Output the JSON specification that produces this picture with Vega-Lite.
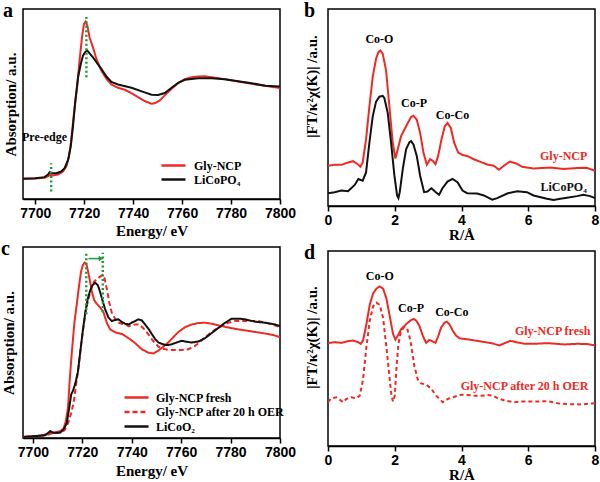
{
  "$schema": "https://vega.github.io/schema/vega-lite/v6.json",
  "padding": 0,
  "background": "white",
  "config": {
    "view": {"stroke": "black", "strokeWidth": 1.5},
    "axis": {"grid": false, "labelFont": "Liberation Sans", "labelFontWeight": "bold", "labelFontSize": 14, "labelColor": "black", "titleFont": "Liberation Serif", "titleFontWeight": "bold", "titleFontSize": 15, "titleColor": "black", "tickColor": "black", "domainColor": "black", "domainWidth": 1.5, "tickWidth": 1.5, "tickSize": 5, "labelPadding": 2, "labelFlush": false, "labelOverlap": false},
    "title": {"font": "Liberation Serif", "fontWeight": "bold", "fontSize": 20, "anchor": "start", "frame": "bounds", "offset": -12, "color": "black"},
    "text": {"font": "Liberation Serif", "fontWeight": "bold", "fontSize": 12},
    "legend": {"labelFont": "Liberation Serif", "labelFontWeight": "bold", "labelFontSize": 12, "labelColor": "black"}
  },
  "datasets": {
    "a_lines": [
      {"series": "Gly-NCP", "energy": 7695, "absorption": 61}, {"series": "Gly-NCP", "energy": 7700, "absorption": 62}, {"series": "Gly-NCP", "energy": 7703.8, "absorption": 64}, {"series": "Gly-NCP", "energy": 7705.2, "absorption": 68}, {"series": "Gly-NCP", "energy": 7706.1, "absorption": 73}, {"series": "Gly-NCP", "energy": 7707.2, "absorption": 71}, {"series": "Gly-NCP", "energy": 7709.3, "absorption": 74}, {"series": "Gly-NCP", "energy": 7711.3, "absorption": 83}, {"series": "Gly-NCP", "energy": 7712.7, "absorption": 98}, {"series": "Gly-NCP", "energy": 7713.8, "absorption": 128}, {"series": "Gly-NCP", "energy": 7714.7, "absorption": 178}, {"series": "Gly-NCP", "energy": 7715.8, "absorption": 258}, {"series": "Gly-NCP", "energy": 7717.1, "absorption": 338}, {"series": "Gly-NCP", "energy": 7718.1, "absorption": 418}, {"series": "Gly-NCP", "energy": 7719.1, "absorption": 488}, {"series": "Gly-NCP", "energy": 7719.9, "absorption": 528}, {"series": "Gly-NCP", "energy": 7720.6, "absorption": 536}, {"series": "Gly-NCP", "energy": 7721.3, "absorption": 523}, {"series": "Gly-NCP", "energy": 7722.2, "absorption": 488}, {"series": "Gly-NCP", "energy": 7723.6, "absorption": 458}, {"series": "Gly-NCP", "energy": 7725.0, "absorption": 423}, {"series": "Gly-NCP", "energy": 7727.0, "absorption": 388}, {"series": "Gly-NCP", "energy": 7729.1, "absorption": 363}, {"series": "Gly-NCP", "energy": 7731.1, "absorption": 346}, {"series": "Gly-NCP", "energy": 7733.8, "absorption": 336}, {"series": "Gly-NCP", "energy": 7736.6, "absorption": 330}, {"series": "Gly-NCP", "energy": 7739.3, "absorption": 320}, {"series": "Gly-NCP", "energy": 7742.0, "absorption": 308}, {"series": "Gly-NCP", "energy": 7744.7, "absorption": 296}, {"series": "Gly-NCP", "energy": 7747.5, "absorption": 288}, {"series": "Gly-NCP", "energy": 7748.8, "absorption": 289}, {"series": "Gly-NCP", "energy": 7750.9, "absorption": 298}, {"series": "Gly-NCP", "energy": 7752.9, "absorption": 313}, {"series": "Gly-NCP", "energy": 7755.7, "absorption": 333}, {"series": "Gly-NCP", "energy": 7758.4, "absorption": 350}, {"series": "Gly-NCP", "energy": 7761.1, "absorption": 362}, {"series": "Gly-NCP", "energy": 7763.8, "absorption": 368}, {"series": "Gly-NCP", "energy": 7766.6, "absorption": 370}, {"series": "Gly-NCP", "energy": 7769.3, "absorption": 371}, {"series": "Gly-NCP", "energy": 7772.0, "absorption": 368}, {"series": "Gly-NCP", "energy": 7777.5, "absorption": 362}, {"series": "Gly-NCP", "energy": 7782.9, "absorption": 355}, {"series": "Gly-NCP", "energy": 7788.4, "absorption": 348}, {"series": "Gly-NCP", "energy": 7793.9, "absorption": 342}, {"series": "Gly-NCP", "energy": 7800, "absorption": 335},
      {"series": "LiCoPO₄", "energy": 7695, "absorption": 61}, {"series": "LiCoPO₄", "energy": 7700, "absorption": 63}, {"series": "LiCoPO₄", "energy": 7703.8, "absorption": 66}, {"series": "LiCoPO₄", "energy": 7705.2, "absorption": 74}, {"series": "LiCoPO₄", "energy": 7705.9, "absorption": 81}, {"series": "LiCoPO₄", "energy": 7706.8, "absorption": 78}, {"series": "LiCoPO₄", "energy": 7708.6, "absorption": 78}, {"series": "LiCoPO₄", "energy": 7710.6, "absorption": 83}, {"series": "LiCoPO₄", "energy": 7712.0, "absorption": 93}, {"series": "LiCoPO₄", "energy": 7713.4, "absorption": 118}, {"series": "LiCoPO₄", "energy": 7714.5, "absorption": 158}, {"series": "LiCoPO₄", "energy": 7715.4, "absorption": 218}, {"series": "LiCoPO₄", "energy": 7716.4, "absorption": 298}, {"series": "LiCoPO₄", "energy": 7717.5, "absorption": 368}, {"series": "LiCoPO₄", "energy": 7718.6, "absorption": 408}, {"series": "LiCoPO₄", "energy": 7719.5, "absorption": 433}, {"series": "LiCoPO₄", "energy": 7720.5, "absorption": 445}, {"series": "LiCoPO₄", "energy": 7721.3, "absorption": 448}, {"series": "LiCoPO₄", "energy": 7722.2, "absorption": 440}, {"series": "LiCoPO₄", "energy": 7723.6, "absorption": 428}, {"series": "LiCoPO₄", "energy": 7725.0, "absorption": 413}, {"series": "LiCoPO₄", "energy": 7727.0, "absorption": 393}, {"series": "LiCoPO₄", "energy": 7729.1, "absorption": 370}, {"series": "LiCoPO₄", "energy": 7731.1, "absorption": 354}, {"series": "LiCoPO₄", "energy": 7733.8, "absorption": 346}, {"series": "LiCoPO₄", "energy": 7739.3, "absorption": 336}, {"series": "LiCoPO₄", "energy": 7744.7, "absorption": 322}, {"series": "LiCoPO₄", "energy": 7747.5, "absorption": 315}, {"series": "LiCoPO₄", "energy": 7750.2, "absorption": 314}, {"series": "LiCoPO₄", "energy": 7752.9, "absorption": 320}, {"series": "LiCoPO₄", "energy": 7755.7, "absorption": 336}, {"series": "LiCoPO₄", "energy": 7758.4, "absorption": 351}, {"series": "LiCoPO₄", "energy": 7761.1, "absorption": 360}, {"series": "LiCoPO₄", "energy": 7766.6, "absorption": 365}, {"series": "LiCoPO₄", "energy": 7772.0, "absorption": 365}, {"series": "LiCoPO₄", "energy": 7777.5, "absorption": 362}, {"series": "LiCoPO₄", "energy": 7782.9, "absorption": 356}, {"series": "LiCoPO₄", "energy": 7788.4, "absorption": 350}, {"series": "LiCoPO₄", "energy": 7793.9, "absorption": 342}, {"series": "LiCoPO₄", "energy": 7800, "absorption": 340}
    ],
    "a_marks": [
      {"energy": 7706.5, "y1": 23, "y2": 108},
      {"energy": 7720.9, "y1": 368, "y2": 550}
    ],
    "a_text": [
      {"label": "Pre-edge", "energy": 7703.8, "absorption": 188}
    ],
    "b_lines": [
      {"series": "Gly-NCP", "r": 0.0, "ft": 122}, {"series": "Gly-NCP", "r": 0.2, "ft": 125}, {"series": "Gly-NCP", "r": 0.4, "ft": 125}, {"series": "Gly-NCP", "r": 0.6, "ft": 132}, {"series": "Gly-NCP", "r": 0.75, "ft": 136}, {"series": "Gly-NCP", "r": 0.89, "ft": 127}, {"series": "Gly-NCP", "r": 0.97, "ft": 119}, {"series": "Gly-NCP", "r": 1.04, "ft": 132}, {"series": "Gly-NCP", "r": 1.14, "ft": 202}, {"series": "Gly-NCP", "r": 1.24, "ft": 302}, {"series": "Gly-NCP", "r": 1.34, "ft": 392}, {"series": "Gly-NCP", "r": 1.44, "ft": 447}, {"series": "Gly-NCP", "r": 1.51, "ft": 467}, {"series": "Gly-NCP", "r": 1.57, "ft": 472}, {"series": "Gly-NCP", "r": 1.64, "ft": 462}, {"series": "Gly-NCP", "r": 1.74, "ft": 412}, {"series": "Gly-NCP", "r": 1.84, "ft": 302}, {"series": "Gly-NCP", "r": 1.94, "ft": 192}, {"series": "Gly-NCP", "r": 2.02, "ft": 144}, {"series": "Gly-NCP", "r": 2.09, "ft": 172}, {"series": "Gly-NCP", "r": 2.19, "ft": 212}, {"series": "Gly-NCP", "r": 2.29, "ft": 232}, {"series": "Gly-NCP", "r": 2.39, "ft": 252}, {"series": "Gly-NCP", "r": 2.49, "ft": 270}, {"series": "Gly-NCP", "r": 2.56, "ft": 274}, {"series": "Gly-NCP", "r": 2.66, "ft": 262}, {"series": "Gly-NCP", "r": 2.76, "ft": 222}, {"series": "Gly-NCP", "r": 2.86, "ft": 162}, {"series": "Gly-NCP", "r": 2.96, "ft": 125}, {"series": "Gly-NCP", "r": 3.06, "ft": 142}, {"series": "Gly-NCP", "r": 3.14, "ft": 137}, {"series": "Gly-NCP", "r": 3.22, "ft": 127}, {"series": "Gly-NCP", "r": 3.30, "ft": 152}, {"series": "Gly-NCP", "r": 3.40, "ft": 202}, {"series": "Gly-NCP", "r": 3.50, "ft": 242}, {"series": "Gly-NCP", "r": 3.58, "ft": 252}, {"series": "Gly-NCP", "r": 3.68, "ft": 237}, {"series": "Gly-NCP", "r": 3.78, "ft": 192}, {"series": "Gly-NCP", "r": 3.90, "ft": 162}, {"series": "Gly-NCP", "r": 4.03, "ft": 155}, {"series": "Gly-NCP", "r": 4.17, "ft": 152}, {"series": "Gly-NCP", "r": 4.37, "ft": 142}, {"series": "Gly-NCP", "r": 4.57, "ft": 134}, {"series": "Gly-NCP", "r": 4.77, "ft": 126}, {"series": "Gly-NCP", "r": 4.97, "ft": 122}, {"series": "Gly-NCP", "r": 5.12, "ft": 110}, {"series": "Gly-NCP", "r": 5.27, "ft": 122}, {"series": "Gly-NCP", "r": 5.45, "ft": 135}, {"series": "Gly-NCP", "r": 5.62, "ft": 130}, {"series": "Gly-NCP", "r": 5.82, "ft": 119}, {"series": "Gly-NCP", "r": 6.16, "ft": 114}, {"series": "Gly-NCP", "r": 6.66, "ft": 117}, {"series": "Gly-NCP", "r": 7.06, "ft": 112}, {"series": "Gly-NCP", "r": 7.46, "ft": 115}, {"series": "Gly-NCP", "r": 7.75, "ft": 116}, {"series": "Gly-NCP", "r": 8.0, "ft": 107},
      {"series": "LiCoPO₄", "r": 0.0, "ft": 39}, {"series": "LiCoPO₄", "r": 0.2, "ft": 42}, {"series": "LiCoPO₄", "r": 0.4, "ft": 47}, {"series": "LiCoPO₄", "r": 0.6, "ft": 45}, {"series": "LiCoPO₄", "r": 0.8, "ft": 64}, {"series": "LiCoPO₄", "r": 0.91, "ft": 82}, {"series": "LiCoPO₄", "r": 1.04, "ft": 77}, {"series": "LiCoPO₄", "r": 1.14, "ft": 102}, {"series": "LiCoPO₄", "r": 1.24, "ft": 192}, {"series": "LiCoPO₄", "r": 1.34, "ft": 272}, {"series": "LiCoPO₄", "r": 1.44, "ft": 317}, {"series": "LiCoPO₄", "r": 1.54, "ft": 332}, {"series": "LiCoPO₄", "r": 1.64, "ft": 334}, {"series": "LiCoPO₄", "r": 1.69, "ft": 327}, {"series": "LiCoPO₄", "r": 1.79, "ft": 282}, {"series": "LiCoPO₄", "r": 1.89, "ft": 192}, {"series": "LiCoPO₄", "r": 1.99, "ft": 92}, {"series": "LiCoPO₄", "r": 2.07, "ft": 32}, {"series": "LiCoPO₄", "r": 2.11, "ft": 24}, {"series": "LiCoPO₄", "r": 2.15, "ft": 42}, {"series": "LiCoPO₄", "r": 2.24, "ft": 112}, {"series": "LiCoPO₄", "r": 2.34, "ft": 172}, {"series": "LiCoPO₄", "r": 2.44, "ft": 194}, {"series": "LiCoPO₄", "r": 2.49, "ft": 197}, {"series": "LiCoPO₄", "r": 2.56, "ft": 187}, {"series": "LiCoPO₄", "r": 2.66, "ft": 152}, {"series": "LiCoPO₄", "r": 2.76, "ft": 92}, {"series": "LiCoPO₄", "r": 2.88, "ft": 42}, {"series": "LiCoPO₄", "r": 2.98, "ft": 44}, {"series": "LiCoPO₄", "r": 3.10, "ft": 54}, {"series": "LiCoPO₄", "r": 3.23, "ft": 42}, {"series": "LiCoPO₄", "r": 3.33, "ft": 34}, {"series": "LiCoPO₄", "r": 3.43, "ft": 54}, {"series": "LiCoPO₄", "r": 3.58, "ft": 74}, {"series": "LiCoPO₄", "r": 3.73, "ft": 82}, {"series": "LiCoPO₄", "r": 3.88, "ft": 72}, {"series": "LiCoPO₄", "r": 4.03, "ft": 47}, {"series": "LiCoPO₄", "r": 4.17, "ft": 39}, {"series": "LiCoPO₄", "r": 4.47, "ft": 38}, {"series": "LiCoPO₄", "r": 4.67, "ft": 32}, {"series": "LiCoPO₄", "r": 4.92, "ft": 19}, {"series": "LiCoPO₄", "r": 5.07, "ft": 24}, {"series": "LiCoPO₄", "r": 5.37, "ft": 38}, {"series": "LiCoPO₄", "r": 5.67, "ft": 45}, {"series": "LiCoPO₄", "r": 5.96, "ft": 42}, {"series": "LiCoPO₄", "r": 6.16, "ft": 32}, {"series": "LiCoPO₄", "r": 6.56, "ft": 22}, {"series": "LiCoPO₄", "r": 6.76, "ft": 18}, {"series": "LiCoPO₄", "r": 6.96, "ft": 22}, {"series": "LiCoPO₄", "r": 7.16, "ft": 25}, {"series": "LiCoPO₄", "r": 7.46, "ft": 30}, {"series": "LiCoPO₄", "r": 7.65, "ft": 34}, {"series": "LiCoPO₄", "r": 7.85, "ft": 30}, {"series": "LiCoPO₄", "r": 8.0, "ft": 24}
    ],
    "b_peaks": [
      {"label": "Co-O", "r": 1.54, "ft": 507},
      {"label": "Co-P", "r": 2.58, "ft": 312},
      {"label": "Co-Co", "r": 3.73, "ft": 277}
    ],
    "b_names": [
      {"series": "Gly-NCP", "r": 7.06, "ft": 152},
      {"series": "LiCoPO₄", "r": 7.06, "ft": 57}
    ],
    "c_lines": [
      {"series": "Gly-NCP fresh", "energy": 7696.2, "absorption": 3}, {"series": "Gly-NCP fresh", "energy": 7700, "absorption": 5}, {"series": "Gly-NCP fresh", "energy": 7703.6, "absorption": 7}, {"series": "Gly-NCP fresh", "energy": 7705.7, "absorption": 12}, {"series": "Gly-NCP fresh", "energy": 7707.0, "absorption": 15}, {"series": "Gly-NCP fresh", "energy": 7709.0, "absorption": 16}, {"series": "Gly-NCP fresh", "energy": 7711.1, "absorption": 20}, {"series": "Gly-NCP fresh", "energy": 7712.4, "absorption": 28}, {"series": "Gly-NCP fresh", "energy": 7713.3, "absorption": 48}, {"series": "Gly-NCP fresh", "energy": 7714.2, "absorption": 88}, {"series": "Gly-NCP fresh", "energy": 7714.8, "absorption": 158}, {"series": "Gly-NCP fresh", "energy": 7715.5, "absorption": 228}, {"series": "Gly-NCP fresh", "energy": 7716.2, "absorption": 288}, {"series": "Gly-NCP fresh", "energy": 7716.8, "absorption": 338}, {"series": "Gly-NCP fresh", "energy": 7717.5, "absorption": 378}, {"series": "Gly-NCP fresh", "energy": 7718.2, "absorption": 418}, {"series": "Gly-NCP fresh", "energy": 7718.9, "absorption": 458}, {"series": "Gly-NCP fresh", "energy": 7719.5, "absorption": 488}, {"series": "Gly-NCP fresh", "energy": 7720.2, "absorption": 506}, {"series": "Gly-NCP fresh", "energy": 7720.9, "absorption": 514}, {"series": "Gly-NCP fresh", "energy": 7721.6, "absorption": 511}, {"series": "Gly-NCP fresh", "energy": 7722.2, "absorption": 493}, {"series": "Gly-NCP fresh", "energy": 7722.9, "absorption": 468}, {"series": "Gly-NCP fresh", "energy": 7723.9, "absorption": 428}, {"series": "Gly-NCP fresh", "energy": 7724.9, "absorption": 403}, {"series": "Gly-NCP fresh", "energy": 7725.9, "absorption": 393}, {"series": "Gly-NCP fresh", "energy": 7727.2, "absorption": 383}, {"series": "Gly-NCP fresh", "energy": 7728.6, "absorption": 368}, {"series": "Gly-NCP fresh", "energy": 7729.9, "absorption": 338}, {"series": "Gly-NCP fresh", "energy": 7731.3, "absorption": 318}, {"series": "Gly-NCP fresh", "energy": 7733.3, "absorption": 310}, {"series": "Gly-NCP fresh", "energy": 7736.0, "absorption": 305}, {"series": "Gly-NCP fresh", "energy": 7738.7, "absorption": 293}, {"series": "Gly-NCP fresh", "energy": 7741.4, "absorption": 278}, {"series": "Gly-NCP fresh", "energy": 7744.1, "absorption": 260}, {"series": "Gly-NCP fresh", "energy": 7746.8, "absorption": 250}, {"series": "Gly-NCP fresh", "energy": 7748.8, "absorption": 248}, {"series": "Gly-NCP fresh", "energy": 7750.8, "absorption": 256}, {"series": "Gly-NCP fresh", "energy": 7752.8, "absorption": 268}, {"series": "Gly-NCP fresh", "energy": 7754.9, "absorption": 281}, {"series": "Gly-NCP fresh", "energy": 7756.9, "absorption": 296}, {"series": "Gly-NCP fresh", "energy": 7758.9, "absorption": 311}, {"series": "Gly-NCP fresh", "energy": 7761.6, "absorption": 325}, {"series": "Gly-NCP fresh", "energy": 7764.3, "absorption": 333}, {"series": "Gly-NCP fresh", "energy": 7767.0, "absorption": 337}, {"series": "Gly-NCP fresh", "energy": 7769.7, "absorption": 338}, {"series": "Gly-NCP fresh", "energy": 7772.4, "absorption": 335}, {"series": "Gly-NCP fresh", "energy": 7776.4, "absorption": 328}, {"series": "Gly-NCP fresh", "energy": 7781.8, "absorption": 320}, {"series": "Gly-NCP fresh", "energy": 7787.2, "absorption": 314}, {"series": "Gly-NCP fresh", "energy": 7792.6, "absorption": 308}, {"series": "Gly-NCP fresh", "energy": 7796.6, "absorption": 303}, {"series": "Gly-NCP fresh", "energy": 7800, "absorption": 296},
      {"series": "Gly-NCP after 20 h OER", "energy": 7696.2, "absorption": 3}, {"series": "Gly-NCP after 20 h OER", "energy": 7700, "absorption": 5}, {"series": "Gly-NCP after 20 h OER", "energy": 7705.0, "absorption": 8}, {"series": "Gly-NCP after 20 h OER", "energy": 7707.7, "absorption": 13}, {"series": "Gly-NCP after 20 h OER", "energy": 7711.1, "absorption": 16}, {"series": "Gly-NCP after 20 h OER", "energy": 7712.8, "absorption": 23}, {"series": "Gly-NCP after 20 h OER", "energy": 7714.2, "absorption": 43}, {"series": "Gly-NCP after 20 h OER", "energy": 7715.5, "absorption": 73}, {"series": "Gly-NCP after 20 h OER", "energy": 7716.6, "absorption": 108}, {"series": "Gly-NCP after 20 h OER", "energy": 7717.5, "absorption": 158}, {"series": "Gly-NCP after 20 h OER", "energy": 7718.5, "absorption": 208}, {"series": "Gly-NCP after 20 h OER", "energy": 7719.4, "absorption": 268}, {"series": "Gly-NCP after 20 h OER", "energy": 7720.5, "absorption": 328}, {"series": "Gly-NCP after 20 h OER", "energy": 7721.4, "absorption": 373}, {"series": "Gly-NCP after 20 h OER", "energy": 7722.5, "absorption": 408}, {"series": "Gly-NCP after 20 h OER", "energy": 7723.6, "absorption": 438}, {"series": "Gly-NCP after 20 h OER", "energy": 7724.7, "absorption": 458}, {"series": "Gly-NCP after 20 h OER", "energy": 7725.9, "absorption": 466}, {"series": "Gly-NCP after 20 h OER", "energy": 7727.2, "absorption": 473}, {"series": "Gly-NCP after 20 h OER", "energy": 7728.2, "absorption": 478}, {"series": "Gly-NCP after 20 h OER", "energy": 7729.0, "absorption": 468}, {"series": "Gly-NCP after 20 h OER", "energy": 7729.9, "absorption": 438}, {"series": "Gly-NCP after 20 h OER", "energy": 7730.9, "absorption": 398}, {"series": "Gly-NCP after 20 h OER", "energy": 7731.9, "absorption": 368}, {"series": "Gly-NCP after 20 h OER", "energy": 7733.3, "absorption": 350}, {"series": "Gly-NCP after 20 h OER", "energy": 7734.6, "absorption": 338}, {"series": "Gly-NCP after 20 h OER", "energy": 7736.0, "absorption": 335}, {"series": "Gly-NCP after 20 h OER", "energy": 7737.3, "absorption": 333}, {"series": "Gly-NCP after 20 h OER", "energy": 7738.7, "absorption": 328}, {"series": "Gly-NCP after 20 h OER", "energy": 7740.0, "absorption": 330}, {"series": "Gly-NCP after 20 h OER", "energy": 7741.4, "absorption": 333}, {"series": "Gly-NCP after 20 h OER", "energy": 7742.7, "absorption": 333}, {"series": "Gly-NCP after 20 h OER", "energy": 7744.1, "absorption": 326}, {"series": "Gly-NCP after 20 h OER", "energy": 7745.4, "absorption": 316}, {"series": "Gly-NCP after 20 h OER", "energy": 7746.8, "absorption": 303}, {"series": "Gly-NCP after 20 h OER", "energy": 7748.1, "absorption": 290}, {"series": "Gly-NCP after 20 h OER", "energy": 7749.5, "absorption": 278}, {"series": "Gly-NCP after 20 h OER", "energy": 7750.8, "absorption": 268}, {"series": "Gly-NCP after 20 h OER", "energy": 7752.2, "absorption": 262}, {"series": "Gly-NCP after 20 h OER", "energy": 7754.9, "absorption": 258}, {"series": "Gly-NCP after 20 h OER", "energy": 7757.5, "absorption": 258}, {"series": "Gly-NCP after 20 h OER", "energy": 7760.2, "absorption": 258}, {"series": "Gly-NCP after 20 h OER", "energy": 7762.9, "absorption": 260}, {"series": "Gly-NCP after 20 h OER", "energy": 7765.6, "absorption": 270}, {"series": "Gly-NCP after 20 h OER", "energy": 7768.3, "absorption": 286}, {"series": "Gly-NCP after 20 h OER", "energy": 7771.0, "absorption": 303}, {"series": "Gly-NCP after 20 h OER", "energy": 7773.7, "absorption": 318}, {"series": "Gly-NCP after 20 h OER", "energy": 7776.4, "absorption": 328}, {"series": "Gly-NCP after 20 h OER", "energy": 7779.1, "absorption": 338}, {"series": "Gly-NCP after 20 h OER", "energy": 7781.8, "absorption": 343}, {"series": "Gly-NCP after 20 h OER", "energy": 7784.5, "absorption": 343}, {"series": "Gly-NCP after 20 h OER", "energy": 7787.2, "absorption": 343}, {"series": "Gly-NCP after 20 h OER", "energy": 7791.2, "absorption": 343}, {"series": "Gly-NCP after 20 h OER", "energy": 7795.3, "absorption": 336}, {"series": "Gly-NCP after 20 h OER", "energy": 7800, "absorption": 325},
      {"series": "LiCoO₂", "energy": 7696.2, "absorption": 3}, {"series": "LiCoO₂", "energy": 7700, "absorption": 5}, {"series": "LiCoO₂", "energy": 7705.0, "absorption": 8}, {"series": "LiCoO₂", "energy": 7707.0, "absorption": 20}, {"series": "LiCoO₂", "energy": 7708.4, "absorption": 15}, {"series": "LiCoO₂", "energy": 7711.1, "absorption": 16}, {"series": "LiCoO₂", "energy": 7712.4, "absorption": 25}, {"series": "LiCoO₂", "energy": 7713.7, "absorption": 43}, {"series": "LiCoO₂", "energy": 7714.7, "absorption": 88}, {"series": "LiCoO₂", "energy": 7715.5, "absorption": 128}, {"series": "LiCoO₂", "energy": 7716.2, "absorption": 138}, {"series": "LiCoO₂", "energy": 7717.1, "absorption": 158}, {"series": "LiCoO₂", "energy": 7718.2, "absorption": 193}, {"series": "LiCoO₂", "energy": 7719.1, "absorption": 248}, {"series": "LiCoO₂", "energy": 7720.1, "absorption": 308}, {"series": "LiCoO₂", "energy": 7721.2, "absorption": 368}, {"series": "LiCoO₂", "energy": 7722.2, "absorption": 408}, {"series": "LiCoO₂", "energy": 7723.2, "absorption": 433}, {"series": "LiCoO₂", "energy": 7724.1, "absorption": 448}, {"series": "LiCoO₂", "energy": 7725.2, "absorption": 455}, {"series": "LiCoO₂", "energy": 7726.3, "absorption": 448}, {"series": "LiCoO₂", "energy": 7727.2, "absorption": 428}, {"series": "LiCoO₂", "energy": 7728.2, "absorption": 403}, {"series": "LiCoO₂", "energy": 7729.2, "absorption": 378}, {"series": "LiCoO₂", "energy": 7730.6, "absorption": 353}, {"series": "LiCoO₂", "energy": 7731.9, "absorption": 343}, {"series": "LiCoO₂", "energy": 7733.3, "absorption": 346}, {"series": "LiCoO₂", "energy": 7734.6, "absorption": 348}, {"series": "LiCoO₂", "energy": 7736.0, "absorption": 340}, {"series": "LiCoO₂", "energy": 7737.3, "absorption": 335}, {"series": "LiCoO₂", "energy": 7738.7, "absorption": 333}, {"series": "LiCoO₂", "energy": 7740.0, "absorption": 338}, {"series": "LiCoO₂", "energy": 7741.4, "absorption": 343}, {"series": "LiCoO₂", "energy": 7742.7, "absorption": 348}, {"series": "LiCoO₂", "energy": 7744.1, "absorption": 345}, {"series": "LiCoO₂", "energy": 7745.4, "absorption": 333}, {"series": "LiCoO₂", "energy": 7746.8, "absorption": 320}, {"series": "LiCoO₂", "energy": 7748.1, "absorption": 305}, {"series": "LiCoO₂", "energy": 7749.5, "absorption": 290}, {"series": "LiCoO₂", "energy": 7750.8, "absorption": 280}, {"series": "LiCoO₂", "energy": 7752.2, "absorption": 276}, {"series": "LiCoO₂", "energy": 7753.5, "absorption": 273}, {"series": "LiCoO₂", "energy": 7754.9, "absorption": 273}, {"series": "LiCoO₂", "energy": 7756.2, "absorption": 275}, {"series": "LiCoO₂", "energy": 7758.2, "absorption": 280}, {"series": "LiCoO₂", "energy": 7760.2, "absorption": 285}, {"series": "LiCoO₂", "energy": 7762.3, "absorption": 282}, {"series": "LiCoO₂", "energy": 7764.3, "absorption": 280}, {"series": "LiCoO₂", "energy": 7767.0, "absorption": 283}, {"series": "LiCoO₂", "energy": 7769.7, "absorption": 293}, {"series": "LiCoO₂", "energy": 7772.4, "absorption": 308}, {"series": "LiCoO₂", "energy": 7775.1, "absorption": 323}, {"series": "LiCoO₂", "energy": 7777.8, "absorption": 338}, {"series": "LiCoO₂", "energy": 7780.5, "absorption": 350}, {"series": "LiCoO₂", "energy": 7783.2, "absorption": 350}, {"series": "LiCoO₂", "energy": 7785.8, "absorption": 348}, {"series": "LiCoO₂", "energy": 7789.9, "absorption": 341}, {"series": "LiCoO₂", "energy": 7793.9, "absorption": 338}, {"series": "LiCoO₂", "energy": 7798.0, "absorption": 333}, {"series": "LiCoO₂", "energy": 7800, "absorption": 328}
    ],
    "c_marks": [
      {"energy": 7721.6, "y1": 363, "y2": 543},
      {"energy": 7728.3, "y1": 368, "y2": 543}
    ],
    "c_arrow": [
      {"start": 7722.5, "end": 7727.6, "absorption": 526}
    ],
    "d_lines": [
      {"series": "Gly-NCP fresh", "r": 0.0, "ft": 317}, {"series": "Gly-NCP fresh", "r": 0.2, "ft": 320}, {"series": "Gly-NCP fresh", "r": 0.4, "ft": 318}, {"series": "Gly-NCP fresh", "r": 0.6, "ft": 323}, {"series": "Gly-NCP fresh", "r": 0.75, "ft": 325}, {"series": "Gly-NCP fresh", "r": 0.9, "ft": 320}, {"series": "Gly-NCP fresh", "r": 0.98, "ft": 315}, {"series": "Gly-NCP fresh", "r": 1.05, "ft": 325}, {"series": "Gly-NCP fresh", "r": 1.15, "ft": 375}, {"series": "Gly-NCP fresh", "r": 1.25, "ft": 435}, {"series": "Gly-NCP fresh", "r": 1.35, "ft": 470}, {"series": "Gly-NCP fresh", "r": 1.45, "ft": 485}, {"series": "Gly-NCP fresh", "r": 1.55, "ft": 492}, {"series": "Gly-NCP fresh", "r": 1.65, "ft": 485}, {"series": "Gly-NCP fresh", "r": 1.75, "ft": 455}, {"series": "Gly-NCP fresh", "r": 1.85, "ft": 400}, {"series": "Gly-NCP fresh", "r": 1.95, "ft": 345}, {"series": "Gly-NCP fresh", "r": 2.02, "ft": 328}, {"series": "Gly-NCP fresh", "r": 2.09, "ft": 340}, {"series": "Gly-NCP fresh", "r": 2.19, "ft": 360}, {"series": "Gly-NCP fresh", "r": 2.29, "ft": 370}, {"series": "Gly-NCP fresh", "r": 2.39, "ft": 380}, {"series": "Gly-NCP fresh", "r": 2.49, "ft": 388}, {"series": "Gly-NCP fresh", "r": 2.56, "ft": 392}, {"series": "Gly-NCP fresh", "r": 2.64, "ft": 387}, {"series": "Gly-NCP fresh", "r": 2.74, "ft": 370}, {"series": "Gly-NCP fresh", "r": 2.84, "ft": 340}, {"series": "Gly-NCP fresh", "r": 2.94, "ft": 318}, {"series": "Gly-NCP fresh", "r": 3.04, "ft": 327}, {"series": "Gly-NCP fresh", "r": 3.14, "ft": 322}, {"series": "Gly-NCP fresh", "r": 3.22, "ft": 318}, {"series": "Gly-NCP fresh", "r": 3.29, "ft": 335}, {"series": "Gly-NCP fresh", "r": 3.39, "ft": 365}, {"series": "Gly-NCP fresh", "r": 3.49, "ft": 380}, {"series": "Gly-NCP fresh", "r": 3.56, "ft": 383}, {"series": "Gly-NCP fresh", "r": 3.64, "ft": 375}, {"series": "Gly-NCP fresh", "r": 3.74, "ft": 355}, {"series": "Gly-NCP fresh", "r": 3.84, "ft": 340}, {"series": "Gly-NCP fresh", "r": 3.94, "ft": 332}, {"series": "Gly-NCP fresh", "r": 4.09, "ft": 330}, {"series": "Gly-NCP fresh", "r": 4.29, "ft": 327}, {"series": "Gly-NCP fresh", "r": 4.59, "ft": 322}, {"series": "Gly-NCP fresh", "r": 4.89, "ft": 317}, {"series": "Gly-NCP fresh", "r": 5.14, "ft": 310}, {"series": "Gly-NCP fresh", "r": 5.29, "ft": 317}, {"series": "Gly-NCP fresh", "r": 5.47, "ft": 324}, {"series": "Gly-NCP fresh", "r": 5.64, "ft": 320}, {"series": "Gly-NCP fresh", "r": 5.89, "ft": 315}, {"series": "Gly-NCP fresh", "r": 6.18, "ft": 315}, {"series": "Gly-NCP fresh", "r": 6.58, "ft": 317}, {"series": "Gly-NCP fresh", "r": 7.08, "ft": 313}, {"series": "Gly-NCP fresh", "r": 7.48, "ft": 315}, {"series": "Gly-NCP fresh", "r": 7.78, "ft": 314}, {"series": "Gly-NCP fresh", "r": 8.0, "ft": 310},
      {"series": "Gly-NCP after 20 h OER", "r": 0.0, "ft": 135}, {"series": "Gly-NCP after 20 h OER", "r": 0.1, "ft": 147}, {"series": "Gly-NCP after 20 h OER", "r": 0.25, "ft": 150}, {"series": "Gly-NCP after 20 h OER", "r": 0.35, "ft": 143}, {"series": "Gly-NCP after 20 h OER", "r": 0.45, "ft": 135}, {"series": "Gly-NCP after 20 h OER", "r": 0.55, "ft": 145}, {"series": "Gly-NCP after 20 h OER", "r": 0.7, "ft": 150}, {"series": "Gly-NCP after 20 h OER", "r": 0.85, "ft": 147}, {"series": "Gly-NCP after 20 h OER", "r": 0.95, "ft": 155}, {"series": "Gly-NCP after 20 h OER", "r": 1.05, "ft": 205}, {"series": "Gly-NCP after 20 h OER", "r": 1.15, "ft": 305}, {"series": "Gly-NCP after 20 h OER", "r": 1.25, "ft": 385}, {"series": "Gly-NCP after 20 h OER", "r": 1.35, "ft": 430}, {"series": "Gly-NCP after 20 h OER", "r": 1.45, "ft": 442}, {"series": "Gly-NCP after 20 h OER", "r": 1.55, "ft": 435}, {"series": "Gly-NCP after 20 h OER", "r": 1.65, "ft": 395}, {"series": "Gly-NCP after 20 h OER", "r": 1.75, "ft": 305}, {"series": "Gly-NCP after 20 h OER", "r": 1.83, "ft": 225}, {"series": "Gly-NCP after 20 h OER", "r": 1.9, "ft": 155}, {"series": "Gly-NCP after 20 h OER", "r": 1.95, "ft": 137}, {"series": "Gly-NCP after 20 h OER", "r": 2.0, "ft": 155}, {"series": "Gly-NCP after 20 h OER", "r": 2.04, "ft": 225}, {"series": "Gly-NCP after 20 h OER", "r": 2.11, "ft": 315}, {"series": "Gly-NCP after 20 h OER", "r": 2.19, "ft": 355}, {"series": "Gly-NCP after 20 h OER", "r": 2.29, "ft": 367}, {"series": "Gly-NCP after 20 h OER", "r": 2.37, "ft": 363}, {"series": "Gly-NCP after 20 h OER", "r": 2.47, "ft": 325}, {"series": "Gly-NCP after 20 h OER", "r": 2.59, "ft": 245}, {"series": "Gly-NCP after 20 h OER", "r": 2.69, "ft": 205}, {"series": "Gly-NCP after 20 h OER", "r": 2.79, "ft": 193}, {"series": "Gly-NCP after 20 h OER", "r": 2.94, "ft": 189}, {"series": "Gly-NCP after 20 h OER", "r": 3.09, "ft": 177}, {"series": "Gly-NCP after 20 h OER", "r": 3.24, "ft": 155}, {"series": "Gly-NCP after 20 h OER", "r": 3.44, "ft": 135}, {"series": "Gly-NCP after 20 h OER", "r": 3.59, "ft": 145}, {"series": "Gly-NCP after 20 h OER", "r": 3.79, "ft": 152}, {"series": "Gly-NCP after 20 h OER", "r": 3.99, "ft": 158}, {"series": "Gly-NCP after 20 h OER", "r": 4.19, "ft": 157}, {"series": "Gly-NCP after 20 h OER", "r": 4.39, "ft": 155}, {"series": "Gly-NCP after 20 h OER", "r": 4.59, "ft": 155}, {"series": "Gly-NCP after 20 h OER", "r": 4.79, "ft": 157}, {"series": "Gly-NCP after 20 h OER", "r": 4.94, "ft": 155}, {"series": "Gly-NCP after 20 h OER", "r": 5.09, "ft": 147}, {"series": "Gly-NCP after 20 h OER", "r": 5.29, "ft": 140}, {"series": "Gly-NCP after 20 h OER", "r": 5.59, "ft": 135}, {"series": "Gly-NCP after 20 h OER", "r": 5.79, "ft": 137}, {"series": "Gly-NCP after 20 h OER", "r": 6.18, "ft": 137}, {"series": "Gly-NCP after 20 h OER", "r": 6.58, "ft": 138}, {"series": "Gly-NCP after 20 h OER", "r": 6.88, "ft": 132}, {"series": "Gly-NCP after 20 h OER", "r": 7.18, "ft": 129}, {"series": "Gly-NCP after 20 h OER", "r": 7.58, "ft": 128}, {"series": "Gly-NCP after 20 h OER", "r": 8.0, "ft": 132}
    ],
    "d_peaks": [
      {"label": "Co-O", "r": 1.55, "ft": 525},
      {"label": "Co-P", "r": 2.49, "ft": 425},
      {"label": "Co-Co", "r": 3.71, "ft": 413}
    ],
    "d_names": [
      {"label": "Gly-NCP fresh", "r": 6.73, "ft": 353},
      {"label": "Gly-NCP after 20 h OER", "r": 5.89, "ft": 185}
    ]
  },
  "hconcat": [
    {
      "vconcat": [
        {
          "width": 257, "height": 190,
          "title": {"text": "a"},
          "layer": [
            {
              "data": {"name": "a_lines"},
              "mark": {"type": "line", "strokeWidth": 2, "clip": true},
              "encoding": {
                "x": {"field": "energy", "type": "quantitative", "scale": {"domain": [7695, 7800], "nice": false, "zero": false},
                      "axis": {"title": "Energy/ eV", "values": [7700, 7710, 7720, 7730, 7740, 7750, 7760, 7770, 7780, 7790, 7800], "format": "d", "labelExpr": "datum.value % 20 === 0 ? datum.label : ''", "titlePadding": 3}},
                "y": {"field": "absorption", "type": "quantitative", "scale": {"domain": [0, 574], "nice": false},
                      "axis": {"title": "Absorption/ a.u.", "labels": false, "ticks": false, "domain": false, "titlePadding": 5}},
                "color": {"field": "series", "type": "nominal", "scale": {"domain": ["Gly-NCP", "LiCoPO₄"], "range": ["#ee2a24", "#111111"]},
                          "legend": {"orient": "none", "legendX": 143, "legendY": 149, "title": null, "symbolType": "M-2,0H2", "symbolSize": 144, "symbolStrokeWidth": 2.5, "labelOffset": 13, "rowPadding": 0, "padding": 0}}
              }
            },
            {
              "data": {"name": "a_marks"},
              "mark": {"type": "rule", "color": "#1f9a3b", "strokeWidth": 2.5, "strokeDash": [2, 2.5]},
              "encoding": {"x": {"field": "energy", "type": "quantitative"}, "y": {"field": "y1", "type": "quantitative"}, "y2": {"field": "y2"}}
            },
            {
              "data": {"name": "a_text"},
              "mark": {"type": "text", "color": "black", "fontSize": 12},
              "encoding": {"x": {"field": "energy", "type": "quantitative"}, "y": {"field": "absorption", "type": "quantitative"}, "text": {"field": "label"}}
            }
          ]
        },
        {
          "width": 257, "height": 191,
          "title": {"text": "c"},
          "layer": [
            {
              "data": {"name": "c_lines"},
              "mark": {"type": "line", "strokeWidth": 2, "clip": true},
              "encoding": {
                "x": {"field": "energy", "type": "quantitative", "scale": {"domain": [7696, 7800], "nice": false, "zero": false},
                      "axis": {"title": "Energy/ eV", "values": [7700, 7710, 7720, 7730, 7740, 7750, 7760, 7770, 7780, 7790, 7800], "format": "d", "labelExpr": "datum.value % 20 === 0 ? datum.label : ''", "titlePadding": 4}},
                "y": {"field": "absorption", "type": "quantitative", "scale": {"domain": [0, 560], "nice": false},
                      "axis": {"title": "Absorption/ a.u.", "labels": false, "ticks": false, "domain": false, "titlePadding": 7}},
                "color": {"field": "series", "type": "nominal", "scale": {"domain": ["Gly-NCP fresh", "Gly-NCP after 20 h OER", "LiCoO₂"], "range": ["#ee2a24", "#ee2a24", "#111111"]},
                          "legend": {"orient": "none", "legendX": 106, "legendY": 143, "title": null, "symbolType": "M-2,0H2", "symbolSize": 144, "symbolStrokeWidth": 2.5, "labelOffset": 12, "rowPadding": 0.5, "padding": 0}},
                "strokeDash": {"field": "series", "type": "nominal", "scale": {"domain": ["Gly-NCP fresh", "Gly-NCP after 20 h OER", "LiCoO₂"], "range": [[1, 0], [5, 3], [1, 0]]},
                          "legend": {"orient": "none", "legendX": 106, "legendY": 143, "title": null, "symbolType": "M-2,0H2", "symbolSize": 144, "symbolStrokeWidth": 2.5, "labelOffset": 12, "rowPadding": 0.5, "padding": 0}}
              }
            },
            {
              "data": {"name": "c_marks"},
              "mark": {"type": "rule", "color": "#1f9a3b", "strokeWidth": 2.5, "strokeDash": [2, 2.5]},
              "encoding": {"x": {"field": "energy", "type": "quantitative"}, "y": {"field": "y1", "type": "quantitative"}, "y2": {"field": "y2"}}
            },
            {
              "data": {"name": "c_arrow"},
              "mark": {"type": "rule", "color": "#1f9a3b", "strokeWidth": 1.5},
              "encoding": {"x": {"field": "start", "type": "quantitative"}, "x2": {"field": "end"}, "y": {"field": "absorption", "type": "quantitative"}}
            },
            {
              "data": {"name": "c_arrow"},
              "mark": {"type": "point", "shape": "triangle-right", "filled": true, "color": "#1f9a3b", "size": 30, "opacity": 1},
              "encoding": {"x": {"field": "end", "type": "quantitative"}, "y": {"field": "absorption", "type": "quantitative"}}
            }
          ]
        }
      ],
      "spacing": -1,
      "resolve": {"scale": {"x": "independent", "y": "independent", "color": "independent", "strokeDash": "independent"}, "legend": {"color": "independent", "strokeDash": "independent"}}
    },
    {
      "vconcat": [
        {
          "width": 267, "height": 197,
          "title": {"text": "b"},
          "layer": [
            {
              "data": {"name": "b_lines"},
              "mark": {"type": "line", "strokeWidth": 2, "clip": true},
              "encoding": {
                "x": {"field": "r", "type": "quantitative", "scale": {"domain": [0, 8], "nice": false},
                      "axis": {"title": "R/Å", "values": [0, 1, 2, 3, 4, 5, 6, 7, 8], "labelExpr": "datum.value % 2 === 0 ? datum.label : ''", "titlePadding": 0}},
                "y": {"field": "ft", "type": "quantitative", "scale": {"domain": [0, 598], "nice": false},
                      "axis": {"title": "|FT/κ²χ(K)| /a.u.", "labels": false, "ticks": false, "domain": false, "titlePadding": 9, "titleY": 77}},
                "color": {"field": "series", "type": "nominal", "scale": {"domain": ["Gly-NCP", "LiCoPO₄"], "range": ["#ee2a24", "#111111"]}, "legend": null}
              }
            },
            {
              "data": {"name": "b_peaks"},
              "mark": {"type": "text", "color": "black"},
              "encoding": {"x": {"field": "r", "type": "quantitative"}, "y": {"field": "ft", "type": "quantitative"}, "text": {"field": "label"}}
            },
            {
              "data": {"name": "b_names"},
              "mark": {"type": "text"},
              "encoding": {"x": {"field": "r", "type": "quantitative"}, "y": {"field": "ft", "type": "quantitative"}, "text": {"field": "series"}, "color": {"field": "series", "type": "nominal", "legend": null}}
            }
          ]
        },
        {
          "width": 267, "height": 195,
          "title": {"text": "d"},
          "layer": [
            {
              "data": {"name": "d_lines"},
              "mark": {"type": "line", "strokeWidth": 2, "clip": true, "color": "#ee2a24"},
              "encoding": {
                "x": {"field": "r", "type": "quantitative", "scale": {"domain": [0, 8], "nice": false},
                      "axis": {"title": "R/Å", "values": [0, 1, 2, 3, 4, 5, 6, 7, 8], "labelExpr": "datum.value % 2 === 0 ? datum.label : ''", "titlePadding": 0}},
                "y": {"field": "ft", "type": "quantitative", "scale": {"domain": [0, 601], "nice": false},
                      "axis": {"title": "|FT/κ²χ(K)| /a.u.", "labels": false, "ticks": false, "domain": false, "titlePadding": 9, "titleY": 86}},
                "strokeDash": {"field": "series", "type": "nominal", "scale": {"domain": ["Gly-NCP fresh", "Gly-NCP after 20 h OER"], "range": [[1, 0], [4, 3]]}, "legend": null}
              }
            },
            {
              "data": {"name": "d_peaks"},
              "mark": {"type": "text", "color": "black"},
              "encoding": {"x": {"field": "r", "type": "quantitative"}, "y": {"field": "ft", "type": "quantitative"}, "text": {"field": "label"}}
            },
            {
              "data": {"name": "d_names"},
              "mark": {"type": "text", "color": "#ee2a24"},
              "encoding": {"x": {"field": "r", "type": "quantitative"}, "y": {"field": "ft", "type": "quantitative"}, "text": {"field": "label"}}
            }
          ]
        }
      ],
      "spacing": -1,
      "resolve": {"scale": {"x": "independent", "y": "independent", "color": "independent", "strokeDash": "independent"}, "legend": {"color": "independent", "strokeDash": "independent"}}
    }
  ],
  "spacing": 6,
  "resolve": {"scale": {"x": "independent", "y": "independent", "color": "independent", "strokeDash": "independent"}, "legend": {"color": "independent", "strokeDash": "independent"}}
}
